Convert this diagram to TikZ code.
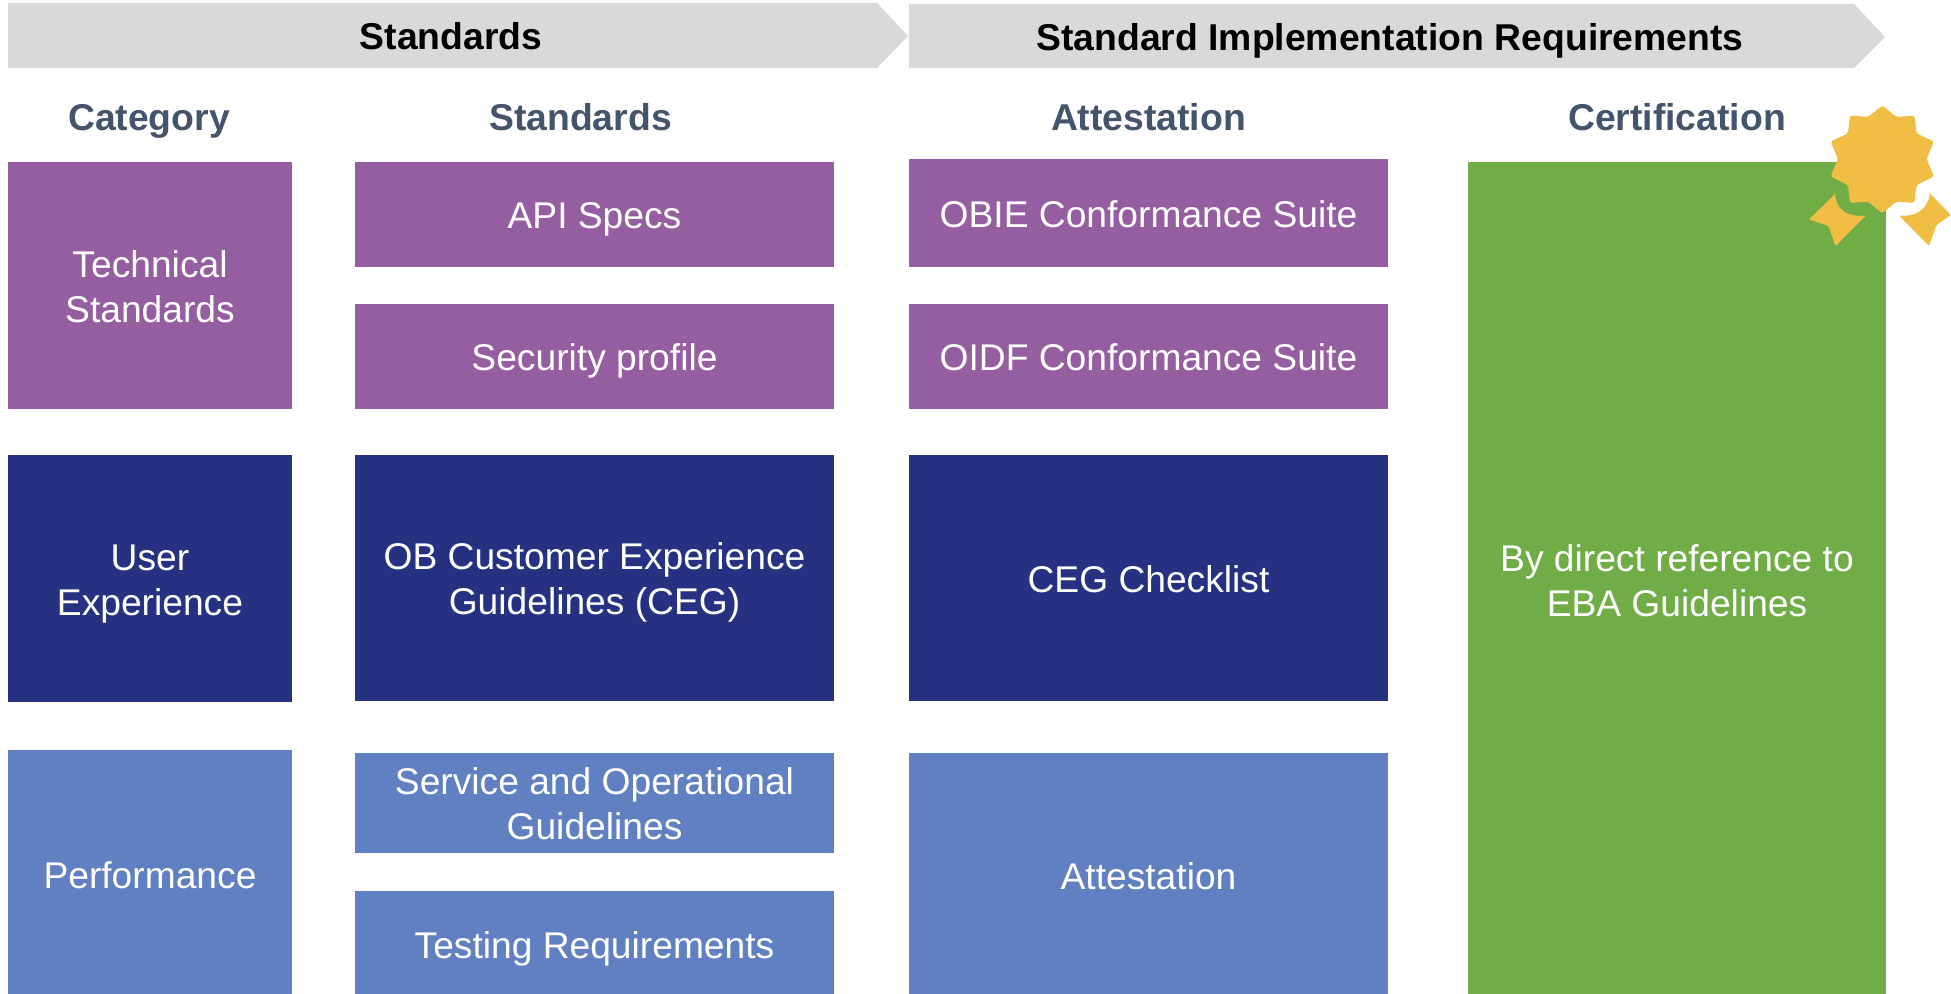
\documentclass[tikz,border=0pt]{standalone}
\usepackage{fontspec}
\setmainfont{Liberation Sans}
\definecolor{cpurple}{HTML}{955EA0}
\definecolor{cnavy}{HTML}{263281}
\definecolor{cblue}{HTML}{6180C2}
\definecolor{cgreen}{HTML}{70AD47}
\definecolor{cgold}{HTML}{F0BE44}
\definecolor{cgray}{HTML}{D9D9D9}
\definecolor{chead}{HTML}{44546A}
\newcommand{\hst}{\rule[-6pt]{0pt}{32pt}}
\newcommand{\cst}{\rule[-6pt]{0pt}{33.5pt}}
\newcommand{\lst}{\rule[-6pt]{0pt}{36pt}}
\newcommand{\pxbox}[7]{%
  \pgfmathsetmacro{\bw}{(#4-#2)*0.75}\pgfmathsetmacro{\bh}{(#5-#3)*0.75}%
  \node[cellbox,fill=#6,minimum width=\bw pt,minimum height=\bh pt] (#1) at ({(#2+#4)/2},{(#3+#5)/2}) {#7};}
\begin{document}
\begin{tikzpicture}[x=0.75pt,y=-0.75pt,
  cellbox/.style={inner sep=0pt,outer sep=0pt,draw=none,text=white,align=center,font=\fontsize{27.9}{33.6}\selectfont},
  bartext/.style={inner sep=0pt,text=black,font=\fontsize{28}{32}\selectfont\bfseries},
  headtext/.style={inner sep=0pt,text=chead,font=\fontsize{28}{32}\selectfont\bfseries},
  barfill/.style={fill=cgray,draw=none},
  gold/.style={fill=cgold,draw=none}]
\useasboundingbox (0,0) rectangle (1951,994);
\fill[white] (0,0) rectangle (1951,994);
% chevrons
\path[barfill] (8,3) -- (877,3) -- (908,36) -- (877,68) -- (8,68) -- cycle;
\path[barfill] (909,4) -- (1854,4) -- (1885,37) -- (1854,68) -- (909,68) -- cycle;
\node[bartext] (barA) at (451,36) {\hst Standards};
\node[bartext] (barB) at (1390,37) {\hst Standard Implementation Requirements};
% column headings
\node[headtext] (hCat) at (149,117) {\hst Category};
\node[headtext] (hStd) at (580.5,117) {\hst Standards};
\node[headtext] (hAtt) at (1148.5,117) {\hst Attestation};
\node[headtext] (hCer) at (1677,117) {\hst Certification};
% category
\pxbox{catT}{8}{162}{292}{409}{cpurple}{\cst Technical\\\cst Standards}
\pxbox{catU}{8}{455}{292}{702}{cnavy}{\cst User\\\cst Experience}
\pxbox{catP}{8}{750}{292}{994}{cblue}{\lst Performance}
% standards
\pxbox{stdA}{355}{162}{834}{267}{cpurple}{\cst API Specs}
\pxbox{stdS}{355}{304}{834}{409}{cpurple}{\cst Security profile}
\pxbox{stdC}{355}{455}{834}{701}{cnavy}{\cst OB Customer Experience\\\cst Guidelines (CEG)}
\pxbox{stdO}{355}{753}{834}{853}{cblue}{\cst Service and Operational\\\cst Guidelines}
\pxbox{stdR}{355}{891}{834}{994}{cblue}{\lst Testing Requirements}
% attestation
\pxbox{attO}{909}{159}{1388}{267}{cpurple}{\cst OBIE Conformance Suite}
\pxbox{attI}{909}{304}{1388}{409}{cpurple}{\cst OIDF Conformance Suite}
\pxbox{attC}{909}{455}{1388}{701}{cnavy}{\cst CEG Checklist}
\pxbox{attA}{909}{753}{1388}{994}{cblue}{\lst Attestation}
% certification
\pxbox{cert}{1468}{162}{1886}{994}{cgreen}{\lst By direct reference to\\\cst EBA Guidelines}
% badge
\path[gold,rounded corners=2pt]
  (1882.3,105.5) -- (1896.5,117) -- (1914.5,115.5) -- (1916.5,133.5) -- (1934,141.5) -- (1926.5,159) --
  (1934,176.5) -- (1916.5,185) -- (1914.5,203) -- (1896.5,201.5) -- (1882.3,213.5) -- (1868,201.5) --
  (1850,203) -- (1848,185) -- (1830.5,176.5) -- (1838,159) -- (1830.5,141.5) -- (1848,133.5) --
  (1850,115.5) -- (1868,117) -- cycle;
\path[gold,rounded corners=1pt]
  (1835,194) -- (1809,219.5) -- (1828.5,226) -- (1835.5,246) -- (1866,215.5)
  .. controls (1850,217) and (1837,212) .. cycle;
\path[gold,rounded corners=1pt]
  (1930,193.5) -- (1951,215) -- (1936.5,225) -- (1929,246) -- (1899,215.5)
  .. controls (1915,217) and (1927,210) .. cycle;
\end{tikzpicture}
\end{document}
